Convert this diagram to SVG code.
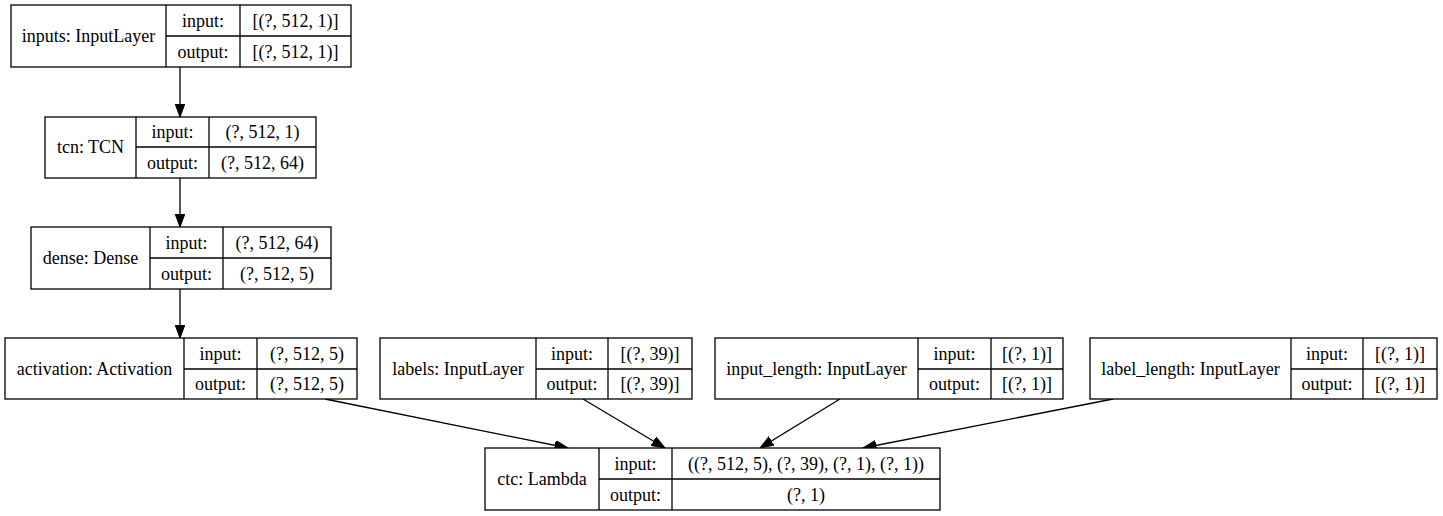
<svg xmlns="http://www.w3.org/2000/svg" width="1443" height="516" viewBox="0 0 1443 516" font-family="'Liberation Serif', 'Times New Roman', Times, serif">
<style>
.box{fill:#fff;stroke:#000;stroke-width:1.3}
.ln{stroke:#000;stroke-width:1.3;fill:none}
text{font-family:'Liberation Serif', 'Times New Roman', Times, serif;font-size:18px;fill:#000;text-anchor:middle}
.edge{stroke:#000;stroke-width:1.3;fill:none;marker-end:url(#arr)}
</style>
<defs>
<marker id="arr" markerUnits="userSpaceOnUse" markerWidth="15" markerHeight="11" refX="13.5" refY="5" orient="auto">
<path d="M0,0 L13.5,5 L0,10 z" fill="#000" stroke="#000" stroke-width="1"/>
</marker>
</defs>
<rect width="1443" height="516" fill="#fff"/>

<g id="connectors">
<line class="edge" x1="180" y1="67" x2="180" y2="117"/>
<line class="edge" x1="180" y1="178" x2="180" y2="227"/>
<line class="edge" x1="180" y1="289" x2="180" y2="338"/>
<line class="edge" x1="325" y1="399" x2="568" y2="448"/>
<line class="edge" x1="583" y1="399" x2="665" y2="448"/>
<line class="edge" x1="840" y1="399" x2="760" y2="448"/>
<line class="edge" x1="1113" y1="399" x2="863" y2="448"/>
</g>

<g id="inputs">
<rect class="box" x="11" y="5" width="340" height="62"/>
<line class="ln" x1="166" y1="5" x2="166" y2="67"/>
<line class="ln" x1="240" y1="5" x2="240" y2="67"/>
<line class="ln" x1="166" y1="36" x2="351" y2="36"/>
<text x="88.5" y="42">inputs: InputLayer</text>
<text x="203" y="26.5">input:</text>
<text x="203" y="57.5">output:</text>
<text x="295.5" y="26.5">[(?, 512, 1)]</text>
<text x="295.5" y="57.5">[(?, 512, 1)]</text>
</g>

<g id="tcn">
<rect class="box" x="45" y="117" width="271" height="61"/>
<line class="ln" x1="136" y1="117" x2="136" y2="178"/>
<line class="ln" x1="209" y1="117" x2="209" y2="178"/>
<line class="ln" x1="136" y1="147" x2="316" y2="147"/>
<text x="90.5" y="153">tcn: TCN</text>
<text x="172.5" y="138">input:</text>
<text x="172.5" y="168.5">output:</text>
<text x="262.5" y="138">(?, 512, 1)</text>
<text x="262.5" y="168.5">(?, 512, 64)</text>
</g>

<g id="dense">
<rect class="box" x="31" y="227" width="300" height="62"/>
<line class="ln" x1="150" y1="227" x2="150" y2="289"/>
<line class="ln" x1="223" y1="227" x2="223" y2="289"/>
<line class="ln" x1="150" y1="258" x2="331" y2="258"/>
<text x="90.5" y="264">dense: Dense</text>
<text x="186.5" y="248.5">input:</text>
<text x="186.5" y="279.5">output:</text>
<text x="277" y="248.5">(?, 512, 64)</text>
<text x="277" y="279.5">(?, 512, 5)</text>
</g>

<g id="activation">
<rect class="box" x="5" y="338" width="352" height="61"/>
<line class="ln" x1="184" y1="338" x2="184" y2="399"/>
<line class="ln" x1="257" y1="338" x2="257" y2="399"/>
<line class="ln" x1="184" y1="369" x2="357" y2="369"/>
<text x="94.5" y="375">activation: Activation</text>
<text x="220.5" y="359.5">input:</text>
<text x="220.5" y="390">output:</text>
<text x="307" y="359.5">(?, 512, 5)</text>
<text x="307" y="390">(?, 512, 5)</text>
</g>

<g id="labels">
<rect class="box" x="380" y="338" width="312" height="61"/>
<line class="ln" x1="536" y1="338" x2="536" y2="399"/>
<line class="ln" x1="608" y1="338" x2="608" y2="399"/>
<line class="ln" x1="536" y1="369" x2="692" y2="369"/>
<text x="458" y="375">labels: InputLayer</text>
<text x="572" y="359.5">input:</text>
<text x="572" y="390">output:</text>
<text x="650" y="359.5">[(?, 39)]</text>
<text x="650" y="390">[(?, 39)]</text>
</g>

<g id="input_length">
<rect class="box" x="715" y="338" width="348" height="61"/>
<line class="ln" x1="918" y1="338" x2="918" y2="399"/>
<line class="ln" x1="991" y1="338" x2="991" y2="399"/>
<line class="ln" x1="918" y1="369" x2="1063" y2="369"/>
<text x="816.5" y="375">input_length: InputLayer</text>
<text x="954.5" y="359.5">input:</text>
<text x="954.5" y="390">output:</text>
<text x="1027" y="359.5">[(?, 1)]</text>
<text x="1027" y="390">[(?, 1)]</text>
</g>

<g id="label_length">
<rect class="box" x="1090" y="338" width="347" height="61"/>
<line class="ln" x1="1291" y1="338" x2="1291" y2="399"/>
<line class="ln" x1="1363" y1="338" x2="1363" y2="399"/>
<line class="ln" x1="1291" y1="369" x2="1437" y2="369"/>
<text x="1190.5" y="375">label_length: InputLayer</text>
<text x="1327" y="359.5">input:</text>
<text x="1327" y="390">output:</text>
<text x="1400" y="359.5">[(?, 1)]</text>
<text x="1400" y="390">[(?, 1)]</text>
</g>

<g id="ctc">
<rect class="box" x="485" y="448" width="455" height="62"/>
<line class="ln" x1="599" y1="448" x2="599" y2="510"/>
<line class="ln" x1="672" y1="448" x2="672" y2="510"/>
<line class="ln" x1="599" y1="479" x2="940" y2="479"/>
<text x="542" y="485">ctc: Lambda</text>
<text x="635.5" y="469.5">input:</text>
<text x="635.5" y="500.5">output:</text>
<text x="806" y="469.5">((?, 512, 5), (?, 39), (?, 1), (?, 1))</text>
<text x="806" y="500.5">(?, 1)</text>
</g>
</svg>
